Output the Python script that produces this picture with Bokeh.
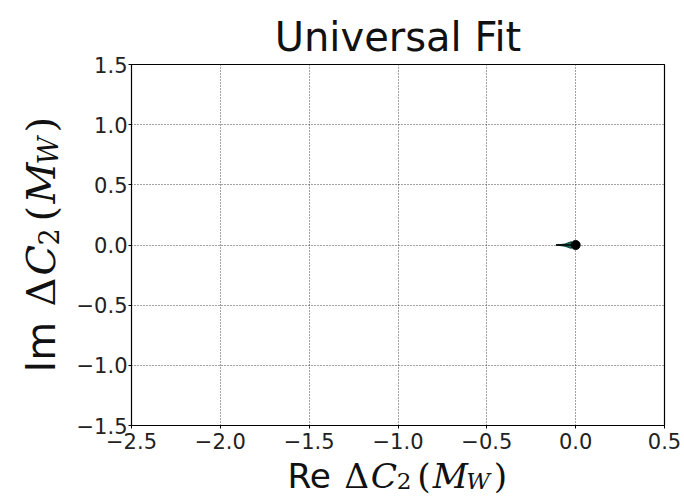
import math
from bokeh.plotting import figure
from bokeh.layouts import row, column
from bokeh.models import Label, CustomJSTickFormatter, FixedTicker, Range1d
from bokeh.embed import file_html
from bokeh.resources import INLINE

# ---- data ----
title_text = "Universal Fit"
x_ticks = [-2.5, -2.0, -1.5, -1.0, -0.5, 0.0, 0.5]
y_ticks = [-1.5, -1.0, -0.5, 0.0, 0.5, 1.0, 1.5]

# fitted band (dark teal wedge) near the origin
band_re = [-0.11, -0.06, -0.025, 0.0, -0.025, -0.06]
band_im = [0.0, 0.008, 0.028, 0.0, -0.028, -0.01]
# faint cyan uncertainty region
halo_re = [-0.08, -0.03, 0.0, -0.04]
halo_im = [-0.01, -0.03, -0.045, -0.03]
# central trajectory
traj_re = [-0.11, -0.06, -0.03, 0.0]
traj_im = [0.0, 0.0, 0.0, 0.0]
# best-fit point
best_re = [0.0]
best_im = [0.0]

# ---- page geometry (page pixels, top-left origin) ----
PW, PH = 684, 497
YLAB_W = 70                # left strip holding the rotated y label
XLAB_H = 42                # bottom strip holding the x label
FRAME_L, FRAME_T, FRAME_W, FRAME_H = 131, 64, 533, 361
BL_FIX = 13                # Label 'alphabetic' anchor correction (px)

main_w = PW - YLAB_W
main_h = PH - XLAB_H
mb_left = FRAME_L - YLAB_W
mb_top = FRAME_T
mb_right = main_w - mb_left - FRAME_W
mb_bottom = main_h - mb_top - FRAME_H

p = figure(width=main_w, height=main_h, output_backend="svg", toolbar_location=None,
           x_range=Range1d(-2.5, 0.5), y_range=Range1d(-1.5, 1.5),
           frame_width=FRAME_W, frame_height=FRAME_H,
           min_border_left=mb_left, min_border_right=mb_right,
           min_border_top=mb_top, min_border_bottom=mb_bottom)
p.background_fill_color = "white"
p.border_fill_color = "white"
p.outline_line_color = "black"
p.outline_line_width = 1.2

p.title.text = title_text
p.title.text_font = "DejaVu Sans"
p.title.text_font_size = "40px"
p.title.text_font_style = "normal"
p.title.text_color = "#111111"
p.title.align = "center"
p.title.standoff = 10

fmt = CustomJSTickFormatter(code="return tick.toFixed(1).replace('-', '\\u2212');")
for ax, ticks in ((p.xaxis[0], x_ticks), (p.yaxis[0], y_ticks)):
    ax.ticker = FixedTicker(ticks=ticks)
    ax.formatter = fmt
    ax.minor_tick_line_color = None
    ax.major_tick_in = 0
    ax.major_tick_out = 3
    ax.axis_line_color = "black"
    ax.major_tick_line_color = "black"
    ax.major_label_text_font = "DejaVu Sans"
    ax.major_label_text_font_size = "21px"
    ax.major_label_text_color = "#222222"
p.xaxis.major_label_standoff = 4
p.yaxis.major_label_standoff = 1

p.grid.grid_line_color = "#444444"
p.grid.grid_line_dash = "1 2"
p.grid.grid_line_width = 1
p.xgrid.ticker = FixedTicker(ticks=x_ticks)
p.ygrid.ticker = FixedTicker(ticks=y_ticks)

p.patch(halo_re, halo_im, fill_color="#7fe3d6", fill_alpha=0.5, line_color=None)
p.patch(band_re, band_im, fill_color="#1e6e60", line_color="#0f3f37", line_width=1)
p.line(traj_re, traj_im, line_color="black", line_width=1.5)
p.scatter(best_re, best_im, size=9, fill_color="black", line_color="black")


def text_strip(w, h, x_page, y_top_page, match_main=False):
    """Blank figure used only to hold text; data units = page pixels, y downwards."""
    if match_main:
        # same horizontal frame as the main plot, so column alignment is a no-op
        xr = Range1d(FRAME_L, FRAME_L + FRAME_W)
        bl, br = mb_left, mb_right
    else:
        xr = Range1d(x_page, x_page + w)
        bl, br = 0, 0
    f = figure(width=w, height=h, output_backend="svg", toolbar_location=None,
               x_range=xr, y_range=Range1d(y_top_page + h, y_top_page),
               x_axis_type=None, y_axis_type=None, title=None,
               min_border=0, min_border_left=bl, min_border_right=br,
               min_border_top=0, min_border_bottom=0)
    f.outline_line_color = None
    f.background_fill_color = "white"
    f.border_fill_color = "white"
    return f


def pieces(prefix, s, sub_shift):
    # (text, font, style, size, advance_offset, baseline_shift), scaled by s
    base = [
        (prefix, "DejaVu Sans", "normal", 40, 0, 0),
        ("\u0394", "DejaVu Serif", "normal", 40, 66, 0),
        ("C", "DejaVu Serif", "italic", 40, 97, 0),
        ("2", "DejaVu Serif", "normal", 27, 127, sub_shift),
        ("(", "DejaVu Serif", "normal", 40, 151, 0),
        ("M", "DejaVu Serif", "italic", 40, 169, 0),
        ("W", "DejaVu Serif", "italic", 27, 208, sub_shift),
        (")", "DejaVu Serif", "normal", 40, 240, 0),
    ]
    return [(t, f, st, round(sz * s, 1), off * s, sh * s) for t, f, st, sz, off, sh in base]


# ---- x label strip ----
XS = 0.86
x_fig = text_strip(main_w, XLAB_H, YLAB_W, PH - XLAB_H, match_main=True)
x_start = 397 - 0.5 * 256 * XS
for txt, font, style, size, off, shift in pieces("Re", XS, 5):
    x_fig.add_layout(Label(x=x_start + off, y=487 + shift - BL_FIX * XS, text=txt,
                           text_font=font, text_font_style=style,
                           text_font_size=f"{size}px", text_align="left",
                           text_baseline="alphabetic", text_color="#111111"))

# ---- y label strip (rotated) ----
y_fig = text_strip(YLAB_W, PH, 0, 0)
for txt, font, style, size, off, shift in pieces("Im", 1.0, 8):
    y_fig.add_layout(Label(x=53 + shift - BL_FIX, y=372 - off, text=txt, text_font=font,
                           text_font_style=style, text_font_size=f"{size}px",
                           text_align="left", text_baseline="alphabetic",
                           angle=math.pi / 2, text_color="#111111"))

layout = row(y_fig, column(p, x_fig, spacing=0), spacing=0)

open("out.html", "w").write(file_html(layout, INLINE))
